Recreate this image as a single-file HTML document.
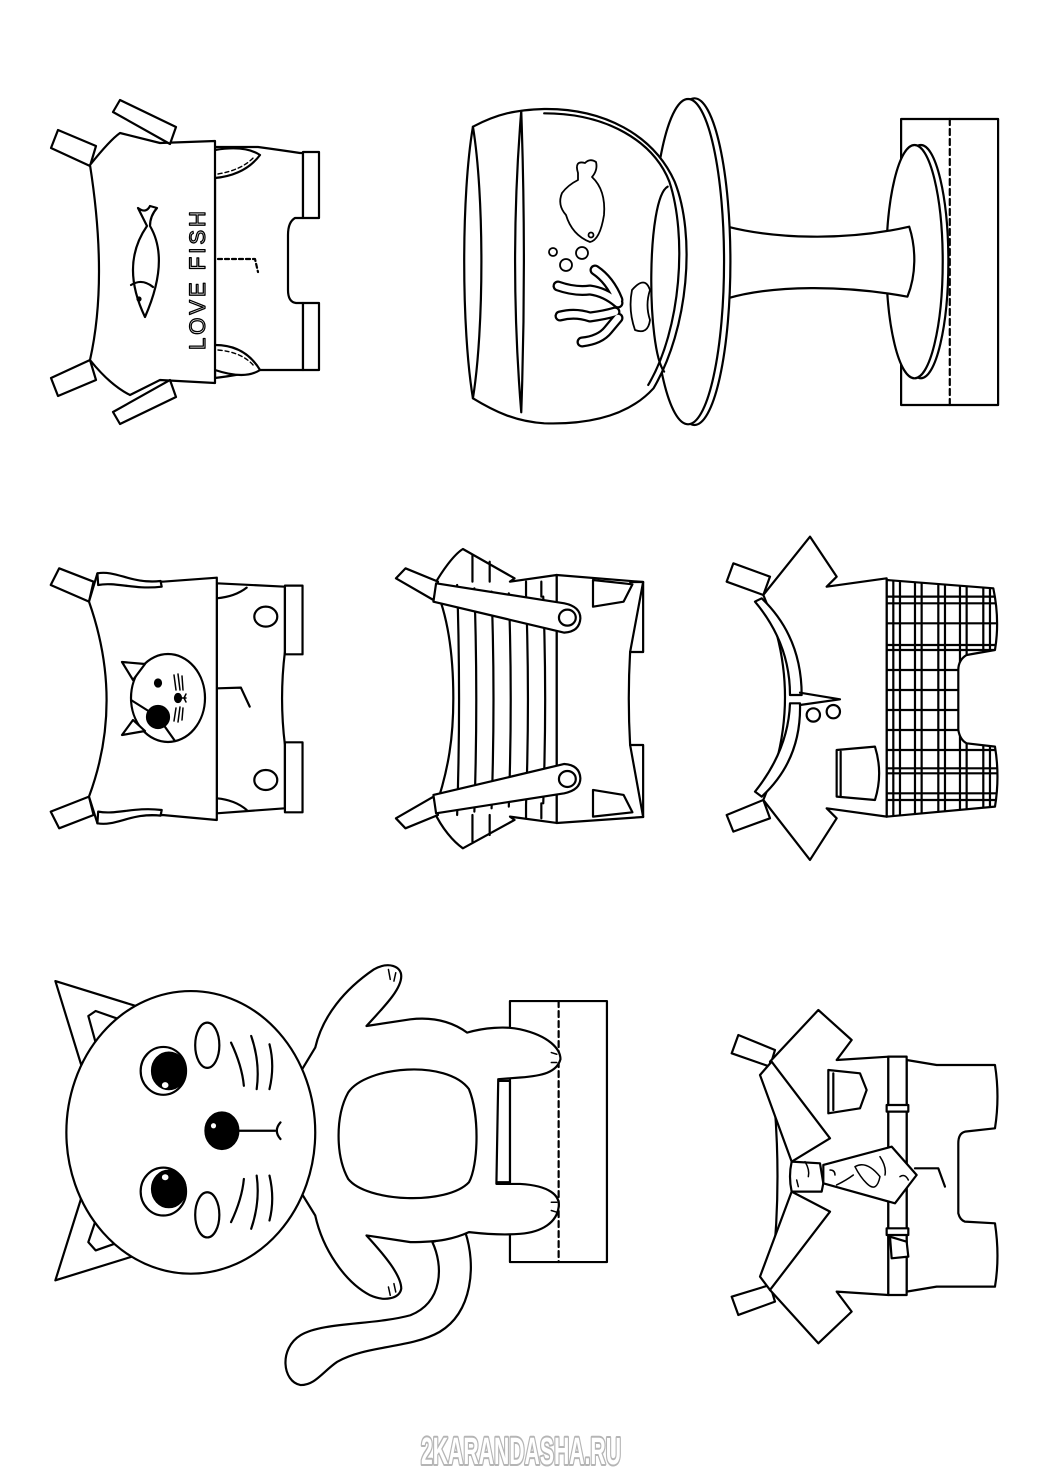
<!DOCTYPE html>
<html><head><meta charset="utf-8"><style>html,body{margin:0;padding:0;background:#fff}svg{display:block}
svg *{vector-effect:non-scaling-stroke}</style></head>
<body>
<svg width="1042" height="1475" viewBox="0 0 1042 1475" xmlns="http://www.w3.org/2000/svg" fill="#fff" stroke="#000" stroke-width="2.2" stroke-linejoin="round" stroke-linecap="round">
<!-- ===== Outfit 1 (top-left) ===== -->
<g>
<polygon points="51,148 58,130 96,146 90,166"/>
<polygon points="51,378 58,396 96,380 90,360"/>
<path d="M215,147 L258,147 Q280,150 300,153 L303,153 L303,218 L295,218 Q288,222 288,235 L288,290 Q288,302 296,303 L303,303 L303,370 L258,370 Q240,375 215,378 Z"/>
<path d="M215,150 Q245,145 260,155 Q245,175 215,178"/>
<path d="M218,174 Q242,170 254,157" fill="none" stroke-dasharray="4,3" stroke-width="1.4"/>
<path d="M215,370 Q245,380 260,370 Q245,345 215,345"/>
<path d="M218,350 Q242,352 254,366" fill="none" stroke-dasharray="4,3" stroke-width="1.4"/>
<rect x="303" y="152" width="16" height="66"/><rect x="303" y="303" width="16" height="67"/>
<path d="M160,143 L215,141 L215,383 L160,380 L130,395 Q110,385 90,360 Q108,280 90,165 Q110,140 120,133 Z"/>
<polygon points="113,112 120,100 176,127 170,144"/>
<polygon points="113,412 120,424 176,397 170,380"/>
<path d="M218,259 L255,259 L258,272" fill="none" stroke-dasharray="4,3"/>
<path d="M147,226 L138,208 Q146,214 150,206 L157,208 Q150,216 150,226 Q170,260 145,317 Q120,265 147,226 Z"/>
<path d="M131,285 Q142,278 153,287" fill="none"/>
<circle cx="139" cy="299" r="1.5" fill="#000"/>
<text x="0" y="0" transform="translate(205,350) rotate(-90)" font-family="Liberation Sans,sans-serif" font-size="22" fill="#fff" stroke="#000" stroke-width="1.3" letter-spacing="3">LOVE FISH</text>
</g>
<!-- ===== Fishbowl ===== -->
<g transform="translate(456,95) scale(0.3527,0.3333)">
<rect x="1262" y="72" width="275" height="858"/>
<line x1="1400" y1="72" x2="1400" y2="930" stroke-dasharray="6,4"/>
<ellipse cx="1318" cy="500" rx="78" ry="350"/>
<ellipse cx="1300" cy="500" rx="80" ry="350"/>
<path d="M770,395 C900,430 1100,440 1285,395 C1305,460 1305,540 1280,605 C1100,570 900,570 770,610 Z"/>
<ellipse cx="676" cy="500" rx="102" ry="490"/>
<ellipse cx="658" cy="500" rx="102" ry="488"/>
<path d="M48,95 C120,55 170,45 250,42 C420,40 560,120 620,260 C680,420 660,700 560,880 C500,950 400,990 250,985 C170,980 110,950 48,910 C15,700 15,300 48,95 Z"/>
<path d="M48,95 C80,300 80,700 48,910" fill="none"/>
<path d="M185,48 Q150,500 185,952 M185,48 Q200,500 185,952" fill="none"/>
<path d="M250,55 C430,55 560,140 605,260 C655,420 640,700 545,870" fill="none"/>
<path d="M600,275 C540,310 540,760 590,830" fill="none"/>
</g>
<g stroke-width="1.8">
<path d="M578,173 Q574,160 585,163 Q590,158 596,162 Q598,170 592,177 Q606,190 604,215 Q600,240 590,242 Q572,235 566,215 Q557,205 562,193 Q568,185 578,180 Z"/>
<circle cx="591" cy="235" r="2.5"/>
<circle cx="553" cy="252" r="4"/><circle cx="566" cy="265" r="6"/><circle cx="582" cy="253" r="6"/>
</g>
<g fill="none" stroke-linecap="round">
<path d="M558,286 Q575,292 590,290 Q605,292 618,303 M560,316 Q575,312 590,317 Q605,315 615,312 M582,342 Q600,340 608,330 L618,318 M595,270 Q610,280 618,300" stroke="#000" stroke-width="11"/>
<path d="M558,286 Q575,292 590,290 Q605,292 618,303 M560,316 Q575,312 590,317 Q605,315 615,312 M582,342 Q600,340 608,330 L618,318 M595,270 Q610,280 618,300" stroke="#fff" stroke-width="6.5"/>
</g>
<path d="M632,290 Q645,275 650,290 Q645,305 650,320 Q648,335 635,330 Q628,310 632,290 Z" stroke-width="1.8"/>
<!-- ===== Outfit cat shirt ===== -->
<g transform="translate(40,535) scale(0.3827,0.3333)">
<path d="M462,145 L640,155 L640,350 Q625,490 640,630 L640,820 L462,835 Z"/>
<path d="M462,190 Q510,185 540,158 M462,790 Q510,795 540,825" fill="none"/>
<rect x="640" y="152" width="46" height="206"/><rect x="640" y="622" width="46" height="210"/>
<path d="M465,460 L525,458 L548,515" fill="none"/>
<circle cx="590" cy="245" r="30"/><circle cx="590" cy="735" r="30"/>
<path d="M28,150 L50,100 L140,140 L128,200 Z"/>
<path d="M28,830 L50,880 L140,840 L128,785 Z"/>
<path d="M128,200 L150,115 Q220,140 320,140 L462,128 L462,855 L320,840 Q220,840 150,865 L128,785 Q220,500 128,200 Z"/>
<path d="M150,115 C200,105 240,148 315,138 L318,155 C245,165 200,140 152,150 Z"/>
<path d="M150,865 C200,875 240,832 315,842 L318,825 C245,815 200,840 152,830 Z"/>
</g>
<g>
<ellipse cx="168" cy="698" rx="37" ry="44"/>
<polygon points="122,662 145,664 133,680"/>
<polygon points="122,735 145,731 133,720"/>
<ellipse cx="158" cy="683" rx="3" ry="3.5" fill="#000"/>
<circle cx="158" cy="717" r="11" fill="#000"/>
<path d="M131,700 L158,717 L175,741" fill="none"/>
<ellipse cx="178" cy="698" rx="3" ry="4" fill="#000"/>
<path d="M180,698 L186,698 M186,694 L184,698 L186,702 M174,675 L176,690 M178,674 L180,690 M182,676 L183,690 M174,721 L176,708 M178,722 L180,707 M182,720 L183,708" fill="none" stroke-width="1.5"/>
</g>
<!-- ===== Outfit striped ===== -->
<g transform="translate(40,535) scale(0.3827,0.3333)">
<path d="M1350,120 L1576,141 L1542,351 Q1535,490 1542,630 L1576,846 L1350,864 Z"/>
<path d="M1542,141 L1576,141 L1576,351 L1542,351 M1542,630 L1576,630 L1576,846" fill="none"/>
<path d="M1445,135 L1548,148 L1525,200 L1445,215 Z M1445,845 L1548,832 L1525,780 L1445,765 Z"/>
<path d="M1030,150 C1050,110 1080,60 1105,42 L1240,130 L1228,140 L1350,120 L1350,864 L1228,845 L1240,855 L1105,940 C1080,920 1050,880 1030,830 C1070,700 1080,600 1080,490 C1080,380 1070,250 1030,150 Z"/>
<path d="M1090,150 Q1100,490 1090,840 M1135,160 Q1145,490 1135,830 M1180,170 Q1190,490 1180,820 M1225,175 Q1235,490 1225,815 M1270,180 Q1280,490 1270,810 M1315,185 Q1325,490 1315,805 M1130,60 L1130,140 M1175,80 L1175,140 M1130,920 L1130,840 M1175,900 L1175,840 M1270,140 L1270,180 M1310,140 L1310,185 M1270,850 L1270,810 M1310,850 L1310,805" fill="none"/>
<path d="M930,130 L955,100 L1040,140 L1028,195 Z"/>
<path d="M930,850 L955,880 L1040,840 L1028,785 Z"/>
<path d="M1035,145 L1370,205 Q1412,215 1412,250 Q1410,290 1370,293 L1028,200 Z"/>
<ellipse cx="1378" cy="248" rx="22" ry="24"/>
<path d="M1035,835 L1370,775 Q1412,765 1412,730 Q1410,690 1370,687 L1028,780 Z"/>
<ellipse cx="1378" cy="732" rx="22" ry="24"/>
</g>
<!-- ===== Outfit plaid ===== -->
<g transform="translate(720,530) scale(0.3333)">
<defs><clipPath id="cp"><path d="M500,150 L820,175 Q840,270 825,360 L740,375 Q715,390 715,420 L715,600 Q720,630 740,640 L825,650 Q840,740 825,830 L500,860 Z"/></clipPath></defs>
<path d="M500,150 L820,175 Q840,270 825,360 L740,375 Q715,390 715,420 L715,600 Q720,630 740,640 L825,650 Q840,740 825,830 L500,860 Z"/>
<g clip-path="url(#cp)" fill="none">
<path d="M520,100 V900 M540,100 V900 M585,100 V900 M605,100 V900 M655,100 V900 M675,100 V900 M720,100 V900 M740,100 V900 M790,100 V900 M810,100 V900 M500,200 H900 M500,220 H900 M500,280 H900 M500,345 H900 M500,360 H900 M500,420 H900 M500,480 H900 M500,540 H900 M500,600 H900 M500,660 H900 M500,715 H900 M500,730 H900 M500,790 H900 M500,810 H900"/>
</g>
<path d="M20,155 L40,100 L150,140 L130,195 Z"/>
<path d="M20,855 L40,905 L150,865 L130,810 Z"/>
<path d="M130,195 L270,20 L350,140 L320,170 L500,145 L500,860 L320,835 L350,865 L270,990 L130,810 Q260,500 130,195 Z"/>
<path d="M105,215 L125,205 Q245,320 245,495 L210,495 Q210,340 105,215 Z"/>
<path d="M105,785 L125,800 Q245,690 240,520 L210,520 Q205,660 105,785 Z"/>
<path d="M240,488 L360,508 L240,525" fill="none"/>
<circle cx="280" cy="555" r="20"/><circle cx="340" cy="545" r="20"/>
<path d="M350,660 L465,650 Q490,730 465,810 L350,800 Z"/>
<path d="M362,665 L362,798" fill="none"/>
</g>
<!-- ===== Cat ===== -->
<g transform="translate(44.4,949.5) scale(0.366,0.3325)">
<rect x="1272" y="155" width="265" height="785"/>
<line x1="1405" y1="155" x2="1405" y2="940" stroke-dasharray="6,4"/>
<path d="M1060,880 C1090,950 1090,1060 1000,1100 C900,1130 760,1120 700,1160 C640,1200 650,1300 700,1310 C740,1310 760,1270 800,1240 C880,1190 1000,1200 1080,1150 C1170,1090 1180,950 1150,850 Z"/>
<path d="M1235,395 L1272,395 L1272,700 L1235,700 Z"/>
<path d="M740,295 C760,200 820,120 900,60 C940,35 975,50 975,80 C975,120 930,170 880,230 L1000,210 C1080,200 1130,230 1155,250 C1200,235 1260,230 1300,240 C1380,260 1410,300 1410,330 C1400,370 1360,380 1300,385 L1240,390 L1235,705 L1300,705 C1380,710 1410,740 1405,775 C1400,820 1360,850 1300,855 C1250,860 1200,855 1160,850 C1120,870 1080,880 1000,880 L880,860 C930,920 975,980 975,1020 C970,1050 930,1060 890,1040 C820,1000 760,900 740,800 L600,550 Z"/>
<path d="M940,60 L945,90 M960,70 L955,95 M940,1015 L945,1040 M955,1005 L960,1030 M1385,310 L1400,315 M1385,340 L1400,340 M1385,760 L1400,760 M1385,785 L1400,790" fill="none" stroke-width="1.5"/>
<path d="M830,430 C880,350 1100,330 1160,420 C1190,500 1185,650 1160,700 C1100,770 880,760 830,690 C795,620 795,500 830,430 Z"/>
<path d="M30,95 L265,175 L100,345 Z"/>
<path d="M30,995 L250,920 L100,750 Z"/>
<path d="M120,200 L140,185 L205,210 L140,280 Z"/>
<path d="M120,880 L140,905 L205,880 L140,815 Z"/>
<ellipse cx="400" cy="550" rx="340" ry="425"/>
<ellipse cx="325" cy="365" rx="62" ry="72"/>
<ellipse cx="340" cy="365" rx="46" ry="55" fill="#000"/>
<ellipse cx="330" cy="408" rx="9" ry="9" stroke="none"/>
<ellipse cx="325" cy="728" rx="62" ry="72"/>
<ellipse cx="340" cy="720" rx="46" ry="55" fill="#000"/>
<ellipse cx="330" cy="685" rx="9" ry="9" stroke="none"/>
<ellipse cx="485" cy="545" rx="45" ry="55" fill="#000"/>
<ellipse cx="462" cy="530" rx="7" ry="8" stroke="none"/>
<path d="M530,545 L630,545 M645,520 Q625,545 645,570" fill="none"/>
<ellipse cx="445" cy="288" rx="33" ry="68"/>
<ellipse cx="445" cy="798" rx="33" ry="68"/>
<path d="M510,280 Q540,350 545,410 M565,260 Q590,340 580,420 M615,285 Q630,350 615,420 M510,820 Q540,750 545,690 M565,840 Q590,760 580,680 M615,815 Q630,750 615,680" fill="none"/>
</g>
<!-- ===== Outfit jacket ===== -->
<g transform="translate(720,1010) scale(0.3333)">
<path d="M560,150 L650,165 L825,165 Q840,260 825,355 L735,365 Q715,370 715,400 L715,610 Q720,630 735,635 L825,640 Q840,740 825,830 L650,830 L560,845 Z"/>
<path d="M585,475 L655,475 L675,530" fill="none"/>
<path d="M35,130 L55,75 L165,120 L150,170 Z"/>
<path d="M35,860 L55,915 L165,875 L150,825 Z"/>
<path d="M150,155 L295,0 L395,90 L350,150 L505,140 L505,855 L350,845 L395,905 L295,1000 L150,840 Q195,500 150,155 Z"/>
<rect x="505" y="140" width="55" height="715"/>
<rect x="500" y="285" width="65" height="20"/><rect x="500" y="655" width="65" height="20"/>
<path d="M510,680 L560,695 L565,740 L515,745 Z"/>
<path d="M325,180 L420,190 L440,240 L420,295 L325,310 Z"/>
<path d="M340,190 L340,300" fill="none"/>
<path d="M120,195 L155,155 L330,385 L215,455 Z"/>
<path d="M120,800 L150,840 L330,605 L215,545 Z"/>
<path d="M215,455 L300,460 L310,520 L305,545 L215,545 Q205,500 215,455 Z"/>
<path d="M310,465 L515,410 L590,495 L525,580 L310,520 Z"/>
<path d="M405,470 Q440,450 480,500 Q470,550 440,520 Q420,500 405,470 Z M480,440 Q500,470 495,495 M330,480 Q345,480 345,495 M540,500 Q555,490 565,510 M350,525 Q380,510 400,495" fill="none" stroke-width="1.5"/>
<path d="M255,455 Q270,480 265,500 M230,510 L235,530" fill="none" stroke-width="1.5"/>
</g>
<text x="421" y="1464" textLength="200" lengthAdjust="spacingAndGlyphs" font-family="Liberation Sans,sans-serif" font-size="38" font-weight="bold" fill="#fff" stroke="#b5b5b5" stroke-width="4" paint-order="stroke">2KARANDASHA.RU</text>
</svg>
</body></html>
